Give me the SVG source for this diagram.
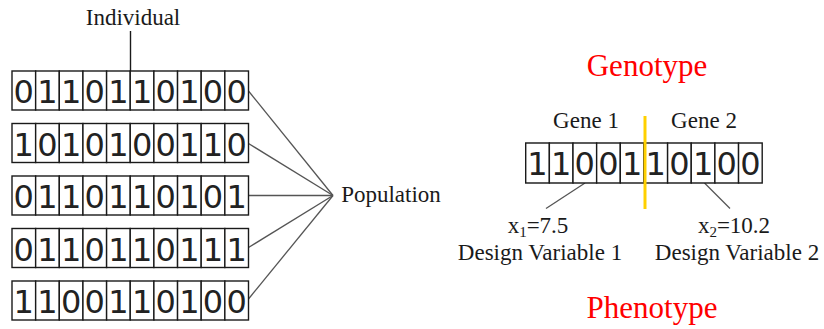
<svg xmlns="http://www.w3.org/2000/svg" width="824" height="329" viewBox="0 0 824 329">
<style>
.bg{fill:#ffffff}
.cell{fill:#ffffff;stroke:#1a1a1a;stroke-width:1.4}
.dig{font-family:"DejaVu Sans",sans-serif;font-size:32px;fill:#222;text-anchor:middle}
.lbl{font-family:"Liberation Serif","Times New Roman",serif;font-size:23px;fill:#1a1a1a;text-anchor:middle}
.var{font-family:"Liberation Serif","Times New Roman",serif;font-size:23px;fill:#1a1a1a;text-anchor:middle}
.red{font-family:"Liberation Serif","Times New Roman",serif;font-size:31px;fill:#ff0000;text-anchor:middle}
.con{stroke:#555;stroke-width:1.3;fill:none}
.blk{stroke:#1a1a1a;stroke-width:1.4;fill:none}
.gold{stroke:#ffd000;stroke-width:3;fill:none}
</style>
<defs>
<g id="cells">
<rect class="cell" x="0" y="0" width="23.65" height="39"/>
<rect class="cell" x="23.65" y="0" width="23.65" height="39"/>
<rect class="cell" x="47.3" y="0" width="23.65" height="39"/>
<rect class="cell" x="70.95" y="0" width="23.65" height="39"/>
<rect class="cell" x="94.6" y="0" width="23.65" height="39"/>
<rect class="cell" x="118.25" y="0" width="23.65" height="39"/>
<rect class="cell" x="141.9" y="0" width="23.65" height="39"/>
<rect class="cell" x="165.55" y="0" width="23.65" height="39"/>
<rect class="cell" x="189.2" y="0" width="23.65" height="39"/>
<rect class="cell" x="212.85" y="0" width="23.65" height="39"/>
</g>
</defs>
<rect class="bg" x="0" y="0" width="824" height="329"/>

<g id="connectors">
<line class="blk" x1="130.5" y1="31" x2="130.5" y2="71"/>
<line class="con" x1="248.5" y1="91" x2="333" y2="195.5"/>
<line class="con" x1="248.5" y1="143.5" x2="333" y2="195.5"/>
<line class="con" x1="248.5" y1="195.5" x2="333" y2="195.5"/>
<line class="con" x1="248.5" y1="247.5" x2="333" y2="195.5"/>
<line class="con" x1="248.5" y1="299" x2="333" y2="195.5"/>
<line class="con" x1="585" y1="183" x2="546" y2="208.5"/>
<line class="con" x1="704.5" y1="183" x2="730" y2="208.5"/>
</g>

<g id="individual-label">
<text class="lbl" x="133" y="25">Individual</text>
</g>

<g id="row1" transform="translate(12,71)">
<use href="#cells"/>
<text class="dig" y="32"><tspan x="11.8">0</tspan><tspan x="35.5">1</tspan><tspan x="59.1">1</tspan><tspan x="82.8">0</tspan><tspan x="106.4">1</tspan><tspan x="130.1">1</tspan><tspan x="153.7">0</tspan><tspan x="177.4">1</tspan><tspan x="201">0</tspan><tspan x="224.7">0</tspan></text>
</g>
<g id="row2" transform="translate(12,123.5)">
<use href="#cells"/>
<text class="dig" y="32"><tspan x="11.8">1</tspan><tspan x="35.5">0</tspan><tspan x="59.1">1</tspan><tspan x="82.8">0</tspan><tspan x="106.4">1</tspan><tspan x="130.1">0</tspan><tspan x="153.7">0</tspan><tspan x="177.4">1</tspan><tspan x="201">1</tspan><tspan x="224.7">0</tspan></text>
</g>
<g id="row3" transform="translate(12,176)">
<use href="#cells"/>
<text class="dig" y="32"><tspan x="11.8">0</tspan><tspan x="35.5">1</tspan><tspan x="59.1">1</tspan><tspan x="82.8">0</tspan><tspan x="106.4">1</tspan><tspan x="130.1">1</tspan><tspan x="153.7">0</tspan><tspan x="177.4">1</tspan><tspan x="201">0</tspan><tspan x="224.7">1</tspan></text>
</g>
<g id="row4" transform="translate(12,228.5)">
<use href="#cells"/>
<text class="dig" y="32"><tspan x="11.8">0</tspan><tspan x="35.5">1</tspan><tspan x="59.1">1</tspan><tspan x="82.8">0</tspan><tspan x="106.4">1</tspan><tspan x="130.1">1</tspan><tspan x="153.7">0</tspan><tspan x="177.4">1</tspan><tspan x="201">1</tspan><tspan x="224.7">1</tspan></text>
</g>
<g id="row5" transform="translate(12,281)">
<use href="#cells"/>
<text class="dig" y="32"><tspan x="11.8">1</tspan><tspan x="35.5">1</tspan><tspan x="59.1">0</tspan><tspan x="82.8">0</tspan><tspan x="106.4">1</tspan><tspan x="130.1">1</tspan><tspan x="153.7">0</tspan><tspan x="177.4">1</tspan><tspan x="201">0</tspan><tspan x="224.7">0</tspan></text>
</g>

<g id="population">
<text class="lbl" x="391" y="202">Population</text>
</g>

<g id="genotype-label">
<text class="red" x="647" y="76">Genotype</text>
</g>
<g id="gene1-label"><text class="lbl" x="586" y="128">Gene 1</text></g>
<g id="gene2-label"><text class="lbl" x="704" y="128">Gene 2</text></g>

<g id="chromosome" transform="translate(525.7,143)">
<g transform="scale(1,1.0256)"><use href="#cells"/></g>
<text class="dig" y="32"><tspan x="11.8">1</tspan><tspan x="35.5">1</tspan><tspan x="59.1">0</tspan><tspan x="82.8">0</tspan><tspan x="106.4">1</tspan><tspan x="130.1">1</tspan><tspan x="153.7">0</tspan><tspan x="177.4">1</tspan><tspan x="201">0</tspan><tspan x="224.7">0</tspan></text>
</g>

<g id="gene-divider">
<line class="gold" x1="645" y1="116" x2="645" y2="209"/>
</g>

<g id="design-var-1">
<text class="var" x="538" y="233" font-size="21">x<tspan dy="4" font-size="15">1</tspan><tspan dy="-4">=7.5</tspan></text>
<text class="lbl" x="540" y="260">Design Variable 1</text>
</g>
<g id="design-var-2">
<text class="var" x="734" y="233" font-size="21">x<tspan dy="4" font-size="15">2</tspan><tspan dy="-4">=10.2</tspan></text>
<text class="lbl" x="737" y="260">Design Variable 2</text>
</g>

<g id="phenotype-label">
<text class="red" x="652" y="318">Phenotype</text>
</g>
</svg>
